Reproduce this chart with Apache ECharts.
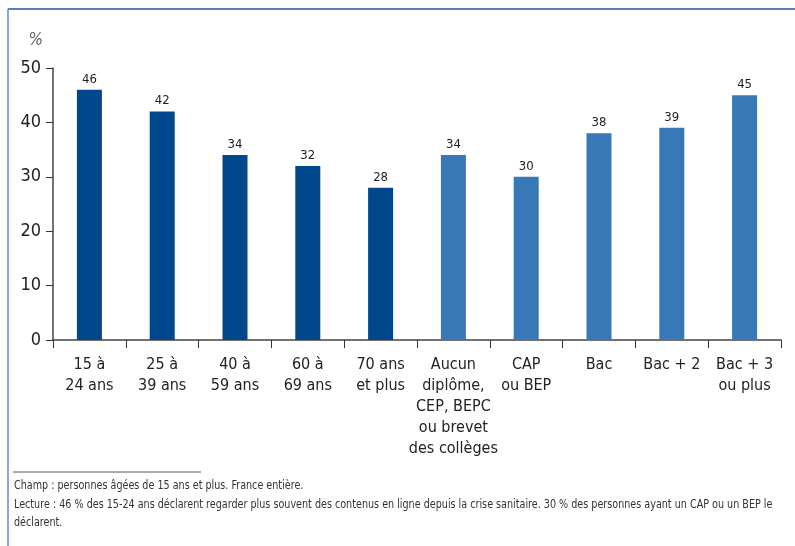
<!DOCTYPE html>
<html>
<head>
<meta charset="utf-8">
<script src="https://cdn.jsdelivr.net/npm/echarts@6/dist/echarts.min.js"></script>
<style>
  html, body { margin: 0; padding: 0; background: #fff; }
  #chart { width: 795px; height: 546px; }
</style>
</head>
<body>
<div id="chart"></div>
<script>
// catégories : âge puis diplôme
const categories = [
  '15 à\n24 ans', '25 à\n39 ans', '40 à\n59 ans', '60 à\n69 ans', '70 ans\net plus',
  'Aucun\ndiplôme,\nCEP, BEPC\nou brevet\ndes collèges', 'CAP\nou BEP', 'Bac', 'Bac + 2', 'Bac + 3\nou plus'
]
const values = [46, 42, 34, 32, 28, 34, 30, 38, 39, 45]
const groupOf = ['age', 'age', 'age', 'age', 'age', 'dipl', 'dipl', 'dipl', 'dipl', 'dipl']
const yTicks = [0, 10, 20, 30, 40, 50]
const notes = [
  'Champ : personnes âgées de 15 ans et plus. France entière.',
  'Lecture : 46 % des 15-24 ans déclarent regarder plus souvent des contenus en ligne depuis la crise sanitaire. 30 % des personnes ayant un CAP ou un BEP le',
  'déclarent.'
]

const colors = { age: '#00478b', dipl: '#3878b6' }
const font = '"DejaVu Sans Condensed", sans-serif'

var chart = echarts.init(document.getElementById('chart'))
var option = {
  animation: false,
  grid: { left: 53, right: 14, top: 68, bottom: 206 },
  xAxis: {
    type: 'category',
    data: categories,
    axisLine: { lineStyle: { color: '#444', width: 1.5 } },
    axisTick: { show: true, length: 8, lineStyle: { color: '#333' } },
    axisLabel: {
      interval: 0,
      color: '#222',
      fontFamily: font,
      fontSize: 16,
      lineHeight: 21,
      margin: 14
    }
  },
  yAxis: {
    type: 'value',
    min: yTicks[0],
    max: yTicks[yTicks.length - 1],
    interval: 10,
    name: '%',
    nameLocation: 'end',
    nameGap: 19,
    nameTextStyle: { color: '#666', fontStyle: 'italic', fontFamily: font, fontSize: 17, align: 'right', padding: [0, 10, 0, 0] },
    axisLine: { show: true, lineStyle: { color: '#444', width: 1.5 } },
    axisTick: { show: true, inside: false, length: 7, lineStyle: { color: '#333' } },
    splitLine: { show: false },
    axisLabel: { color: '#222', fontFamily: font, fontSize: 18, margin: 12 }
  },
  series: [{
    type: 'bar',
    barWidth: 25,
    data: values.map((v, i) => ({ value: v, itemStyle: { color: colors[groupOf[i]] } })),
    label: {
      show: true,
      position: 'top',
      distance: 4,
      color: '#222',
      fontFamily: font,
      fontSize: 13
    }
  }],
  graphic: [
    { type: 'line', shape: { x1: 8, y1: 9, x2: 795, y2: 9 }, style: { stroke: '#1f5597', lineWidth: 1.5 } },
    { type: 'line', shape: { x1: 8, y1: 9, x2: 8, y2: 546 }, style: { stroke: '#5b8cc8', lineWidth: 1.5 } },
    { type: 'line', shape: { x1: 13, y1: 472, x2: 201, y2: 472 }, style: { stroke: '#555', lineWidth: 1 } },
    ...notes.map((t, i) => ({
      type: 'text',
      x: 14,
      y: 480 + i * 18.5,
      scaleX: 0.89,
      style: { text: t, fill: '#333', font: '12px ' + font }
    }))
  ]
}
chart.setOption(option)
</script>
</body>
</html>
